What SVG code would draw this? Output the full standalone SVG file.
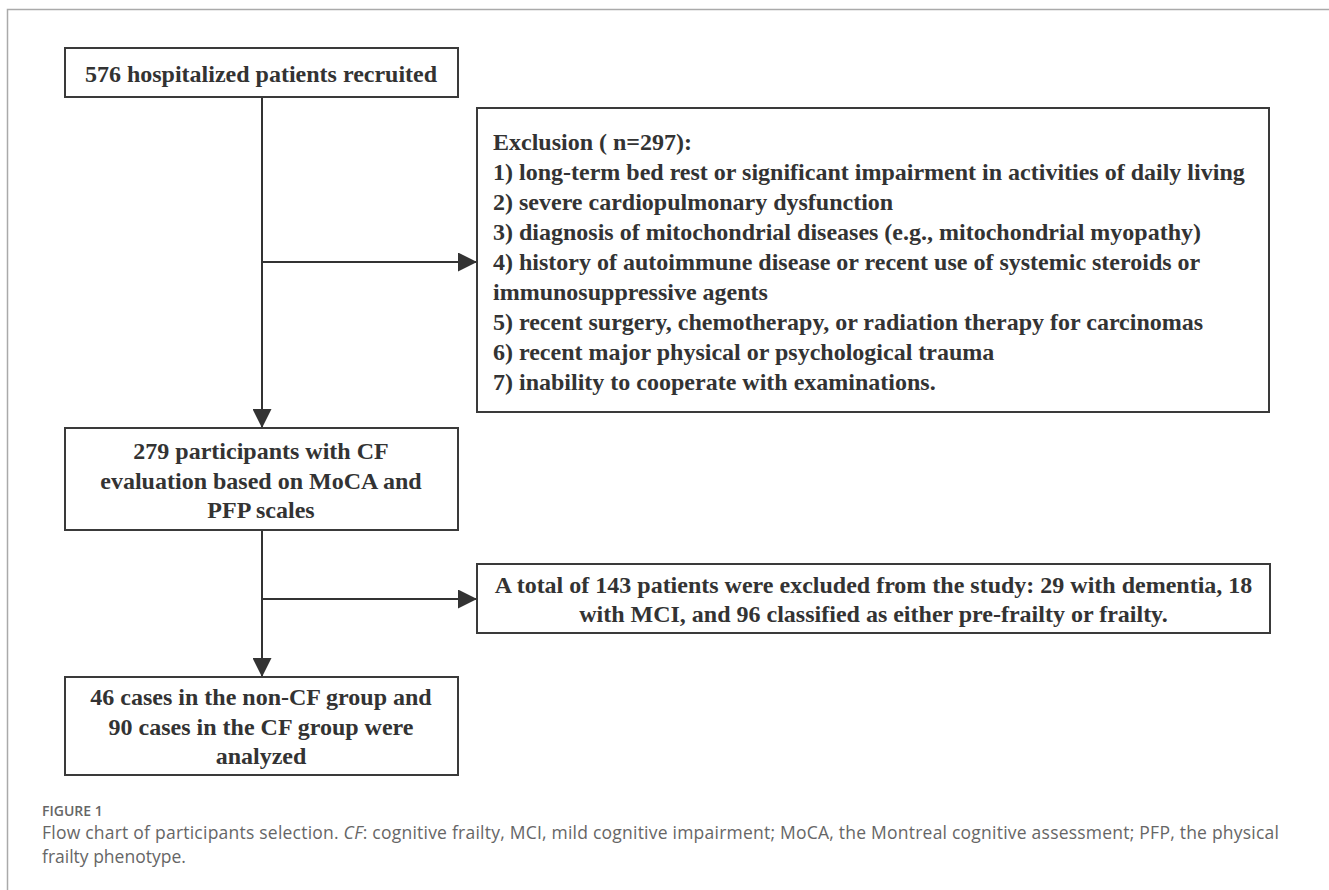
<svg xmlns="http://www.w3.org/2000/svg" width="1329" height="890" viewBox="0 0 1329 890">
<defs>
<style>
.box{fill:#fff;stroke:#3a3a3a;stroke-width:2}
.t{font-family:"Liberation Serif","Times New Roman",serif;font-weight:bold;fill:#333;font-size:24px}
.c{stroke:#333;stroke-width:2;fill:none}
.cap{font-family:"Open Sans","Noto Sans",sans-serif;fill:#666}
</style>
<marker id="ah" viewBox="0 0 10 10" refX="10" refY="5" markerWidth="19" markerHeight="19" markerUnits="userSpaceOnUse" orient="auto">
<path d="M0,0 L10,5 L0,10 z" fill="#333"/>
</marker>
</defs>
<rect width="1329" height="890" fill="#fff"/>
<path d="M7.5,890 V9.5 H1329" fill="none" stroke="#aaa" stroke-width="1.5"/>
<g id="connectors">
<line class="c" x1="262" y1="97" x2="262" y2="428" marker-end="url(#ah)"/>
<line class="c" x1="262" y1="262" x2="477" y2="262" marker-end="url(#ah)"/>
<line class="c" x1="262" y1="530" x2="262" y2="677" marker-end="url(#ah)"/>
<line class="c" x1="262" y1="599" x2="477" y2="599" marker-end="url(#ah)"/>
</g>
<g id="n1">
<rect class="box" x="65" y="48" width="393" height="49"/>
<text class="t" x="261" y="82" text-anchor="middle" font-size="25">576 hospitalized patients recruited</text>
</g>
<g id="n2">
<rect class="box" x="477" y="108" width="792" height="304"/>
<text class="t" x="493" y="150">Exclusion ( n=297):</text>
<text class="t" x="493" y="180">1) long-term bed rest or significant impairment in activities of daily living</text>
<text class="t" x="493" y="210">2) severe cardiopulmonary dysfunction</text>
<text class="t" x="493" y="240">3) diagnosis of mitochondrial diseases (e.g., mitochondrial myopathy)</text>
<text class="t" x="493" y="270">4) history of autoimmune disease or recent use of systemic steroids or</text>
<text class="t" x="493" y="300">immunosuppressive agents</text>
<text class="t" x="493" y="330">5) recent surgery, chemotherapy, or radiation therapy for carcinomas</text>
<text class="t" x="493" y="360">6) recent major physical or psychological trauma</text>
<text class="t" x="493" y="390">7) inability to cooperate with examinations.</text>
</g>
<g id="n3">
<rect class="box" x="65" y="428" width="393" height="102"/>
<text class="t" x="261" y="459" text-anchor="middle">279 participants with CF</text>
<text class="t" x="261" y="489" text-anchor="middle">evaluation based on MoCA and</text>
<text class="t" x="261" y="518" text-anchor="middle">PFP scales</text>
</g>
<g id="n4">
<rect class="box" x="477" y="564" width="793" height="69"/>
<text class="t" x="873.5" y="593" text-anchor="middle">A total of 143 patients were excluded from the study: 29 with dementia, 18</text>
<text class="t" x="873.5" y="622" text-anchor="middle">with MCI, and 96 classified as either pre-frailty or frailty.</text>
</g>
<g id="n5">
<rect class="box" x="65" y="677" width="393" height="98"/>
<text class="t" x="261" y="705" text-anchor="middle">46 cases in the non-CF group and</text>
<text class="t" x="261" y="735" text-anchor="middle">90 cases in the CF group were</text>
<text class="t" x="261" y="764" text-anchor="middle">analyzed</text>
</g>
<g id="caption">
<text class="cap" x="42" y="816" font-size="14" font-weight="600" fill="#777">FIGURE 1</text>
<text class="cap" x="42" y="839" font-size="17.5" textLength="1237" lengthAdjust="spacing">Flow chart of participants selection. <tspan font-style="italic">CF</tspan>: cognitive frailty, MCI, mild cognitive impairment; MoCA, the Montreal cognitive assessment; PFP, the physical</text>
<text class="cap" x="42" y="863" font-size="17.5">frailty phenotype.</text>
</g>
</svg>
